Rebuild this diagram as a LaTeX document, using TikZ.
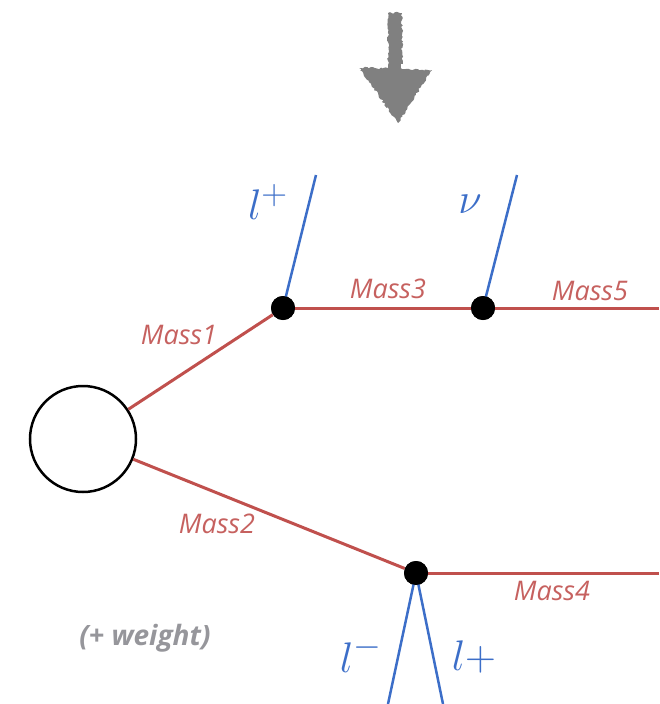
\documentclass[tikz,border=0pt]{standalone}
\usepackage{fontspec}
\setsansfont{Open Sans}
\usetikzlibrary{decorations.pathmorphing}
\definecolor{mred}{RGB}{192,80,77}
\definecolor{mblue}{RGB}{60,110,200}
\definecolor{wgray}{RGB}{150,150,155}
\definecolor{agray}{RGB}{128,128,128}
\newcommand{\biglab}[1]{\scalebox{1.72}{#1}}
\begin{document}
\begin{tikzpicture}[x=1pt,y=-1pt,
  redline/.style={draw=mred,line width=3pt},
  blueline/.style={draw=mblue,line width=2.5pt},
  vertexdot/.style={circle,fill=black,minimum size=24pt,inner sep=0pt},
  masslabel/.style={text=mred!90!white,font=\sffamily\itshape\fontsize{27}{30}\selectfont,inner sep=0pt},
  partlabel/.style={text=mblue,font=\fontsize{24.88}{30}\selectfont,inner sep=0pt}]
\useasboundingbox (0,0) rectangle (659,704);
% grainy arrow
\fill[agray,decorate,decoration={random steps,segment length=2pt,amplitude=1.2pt}]
  (388,13) -- (402,13) -- (402,69) -- (432,70) -- (398,123) -- (359,68) -- (388,68) -- cycle;
% nodes
\node[circle,draw=black,line width=2.5pt,minimum size=106pt,inner sep=0pt] (blob) at (83,439) {};
\node[vertexdot] (A) at (283,308) {};
\node[vertexdot] (B) at (483,308) {};
\node[vertexdot] (C) at (416,573) {};
\coordinate (E5) at (659,308);
\coordinate (E4) at (659,573);
\coordinate (PA) at (316,175);
\coordinate (PB) at (517,175);
\coordinate (PC1) at (388,704);
\coordinate (PC2) at (443,704);
% connectors
\draw[redline] (blob) -- (A);
\draw[redline] (blob) -- (C);
\draw[redline] (A) -- (B);
\draw[redline] (B) -- (E5);
\draw[redline] (C) -- (E4);
\draw[blueline] (A.center) -- (PA);
\draw[blueline] (B.center) -- (PB);
\draw[blueline] (C.center) -- (PC1);
\draw[blueline] (C.center) -- (PC2);
\node[vertexdot] at (A) {};
\node[vertexdot] at (B) {};
\node[vertexdot] at (C) {};
% labels
\node[masslabel] (m1) at (179,335) {Mass1};
\node[masslabel] (m3) at (388,289) {Mass3};
\node[masslabel] (m5) at (590,291) {Mass5};
\node[masslabel] (m2) at (217,524) {Mass2};
\node[masslabel] (m4) at (552,591) {Mass4};
\node[partlabel] (lp) at (268,202) {\biglab{$l^+$}};
\node[partlabel] (nu) at (470,204) {\biglab{$\nu$}};
\node[partlabel] (lm) at (361,654) {\biglab{$l^-$}};
\node[partlabel] (lp2) at (474,657) {\biglab{$l$+}};
\node[text=wgray,font=\sffamily\bfseries\itshape\fontsize{28}{32}\selectfont,inner sep=0pt] (w) at (145,638) {(+ weight)};
\end{tikzpicture}
\end{document}
